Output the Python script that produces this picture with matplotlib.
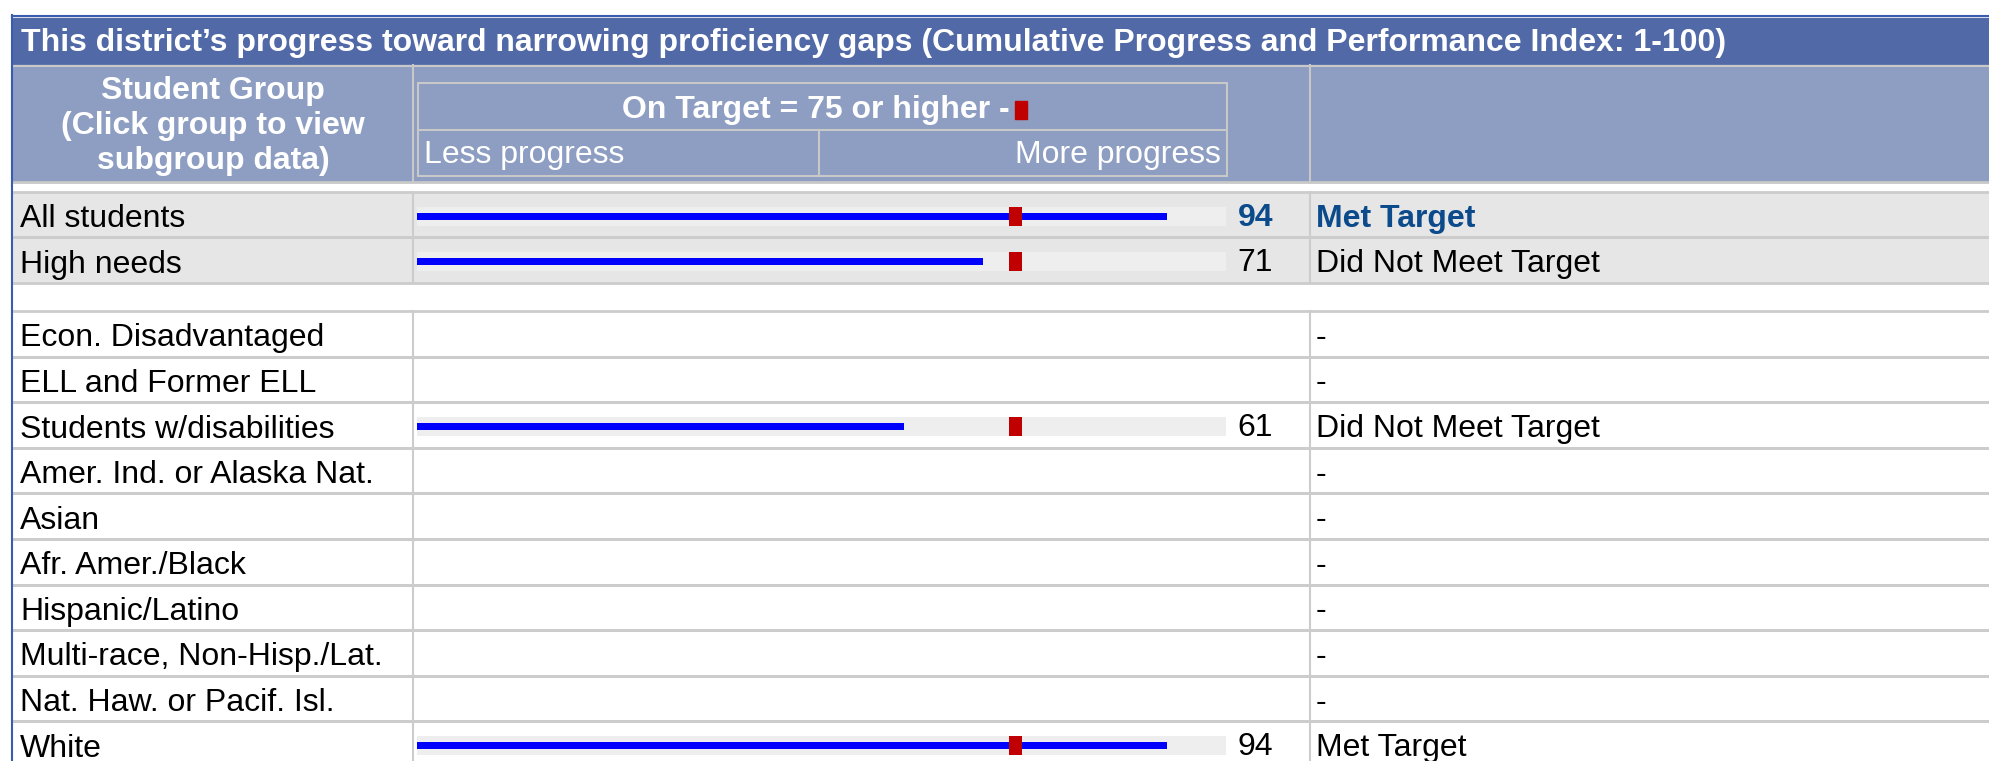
import matplotlib
matplotlib.use("Agg")
import matplotlib.pyplot as plt
from matplotlib.patches import Rectangle

plt.rcParams['font.family'] = ['Liberation Sans', 'DejaVu Sans']

groups = ["All students", "High needs", "Econ. Disadvantaged", "ELL and Former ELL",
          "Students w/disabilities", "Amer. Ind. or Alaska Nat.", "Asian",
          "Afr. Amer./Black", "Hispanic/Latino", "Multi-race, Non-Hisp./Lat.",
          "Nat. Haw. or Pacif. Isl.", "White"]
scores = [94, 71, None, None, 61, None, None, None, None, None, None, 94]
status = ["Met Target", "Did Not Meet Target", "-", "-", "Did Not Meet Target",
          "-", "-", "-", "-", "-", "-", "Met Target"]
target = 75
title = "This district\u2019s progress toward narrowing proficiency gaps (Cumulative Progress and Performance Index: 1-100)"

W, H = 1990, 761
TITLE_BG = "#5169a6"
HEAD_BG = "#8d9ec2"
GRID = "#cccccc"
ROW_BG = "#e6e6e6"
TRACK = "#eeeeee"
BLUE = "#0000ff"
RED = "#c00000"
DARK = "#0b4a8b"
FS = 23

fig = plt.figure(figsize=(W / 100, H / 100), dpi=100)
ax = fig.add_axes([0, 0, 1, 1])
ax.set_xlim(0, W)
ax.set_ylim(H, 0)
ax.axis("off")

# column edges
c0, c1, c2, c3 = 13, 413, 1310, W + 5

# row tops
tops = [192, 237]
tops += [311 + i * 45.6 for i in range(10)]
heights = [45, 46] + [45.6] * 10
centers = [t + h / 2 for t, h in zip(tops, heights)]

# title bar
ax.add_patch(Rectangle((c0, 18), c3 - c0, 47, color=TITLE_BG, zorder=1))
ax.text(21, 43, title, color="white", fontsize=FS, fontweight="bold", va="center")
ax.plot([c0 - 1, c3], [16, 16], color="#3a5bb0", lw=1.5)

# header block
ax.add_patch(Rectangle((c0, 65), c3 - c0, 116, color=HEAD_BG, zorder=1))
ax.plot([c0, c3], [65.5, 65.5], color="#c8c8c8", lw=1.5, zorder=2)
ax.plot([c0, c3], [181.5, 181.5], color="#c8c8c8", lw=2, zorder=2)
for xv in (c1, c2):
    ax.plot([xv, xv], [65, 182], color="#c8c8c8", lw=1.5, zorder=2)
ax.text((c0 + c1) / 2, 126, "Student Group\n(Click group to view\nsubgroup data)",
        color="white", fontsize=FS, fontweight="bold", ha="center", va="center",
        linespacing=1.22)

# inner target box
bx0, bx1, by0, by1, bym, bxm = 418, 1227, 83, 176, 130, 819
ax.add_patch(Rectangle((bx0, by0), bx1 - bx0, by1 - by0, fill=False,
                       ec="#c8c8c8", lw=1.5, zorder=3))
ax.plot([bx0, bx1], [bym, bym], color="#c8c8c8", lw=1.5, zorder=3)
ax.plot([bxm, bxm], [bym, by1], color="#c8c8c8", lw=1.5, zorder=3)
ax.text(1010, 110, "On Target = %d or higher -" % target, color="white",
        fontsize=FS, fontweight="bold", ha="right", va="center")
ax.add_patch(Rectangle((1015, 101), 12, 18, color=RED, zorder=4))
ax.text(bx0 + 6, 155, "Less progress", color="white", fontsize=FS, va="center")
ax.text(bx1 - 6, 155, "More progress", color="white", fontsize=FS, ha="right", va="center")

# rows
for i, (g, s, st) in enumerate(zip(groups, scores, status)):
    top, h, cy = tops[i], heights[i], centers[i]
    if i < 2:
        ax.add_patch(Rectangle((c0, top), c3 - c0, h, color=ROW_BG, zorder=0))
    ax.plot([c0, c3], [top, top], color=GRID, lw=2, zorder=2)
    ax.plot([c0, c3], [top + h, top + h], color=GRID, lw=2, zorder=2)
    ax.plot([c1, c1], [top, top + h], color=GRID, lw=1.5, zorder=2)
    ax.plot([c2, c2], [top, top + h], color=GRID, lw=1.5, zorder=2)
    ax.text(20, cy + 4.5, g, fontsize=FS, va="center", color="black")
    bold = (i == 0)
    col = DARK if bold else "black"
    if s is not None:
        ax.text(1273, cy + 3, str(s), fontsize=FS, va="center", ha="right",
                color=col, fontweight="bold" if bold else "normal")
    ax.text(1316, cy + 4, st, fontsize=FS, va="center", color=col,
            fontweight="bold" if bold else "normal")

# left frame line
ax.plot([12, 12], [15, H], color="#3a5bb0", lw=1.5, zorder=5)

# bars on their own value axis
tx0, tx1 = 417, 1226
bar_ax = fig.add_axes([tx0 / W, 0, (tx1 - tx0) / W, 1])
bar_ax.set_xlim(0, 101.4)
bar_ax.set_ylim(H, 0)
bar_ax.axis("off")
ys = [centers[i] + 1.5 for i, s in enumerate(scores) if s is not None]
vals = [s for s in scores if s is not None]
bar_ax.barh(ys, [101.4] * len(ys), height=19, color=TRACK, zorder=1)
bar_ax.barh(ys, vals, height=7, color=BLUE, zorder=2)
bar_ax.barh(ys, [1.6] * len(ys), left=target - 0.8, height=19, color=RED, zorder=3)

fig.savefig("out.png", dpi=100)
